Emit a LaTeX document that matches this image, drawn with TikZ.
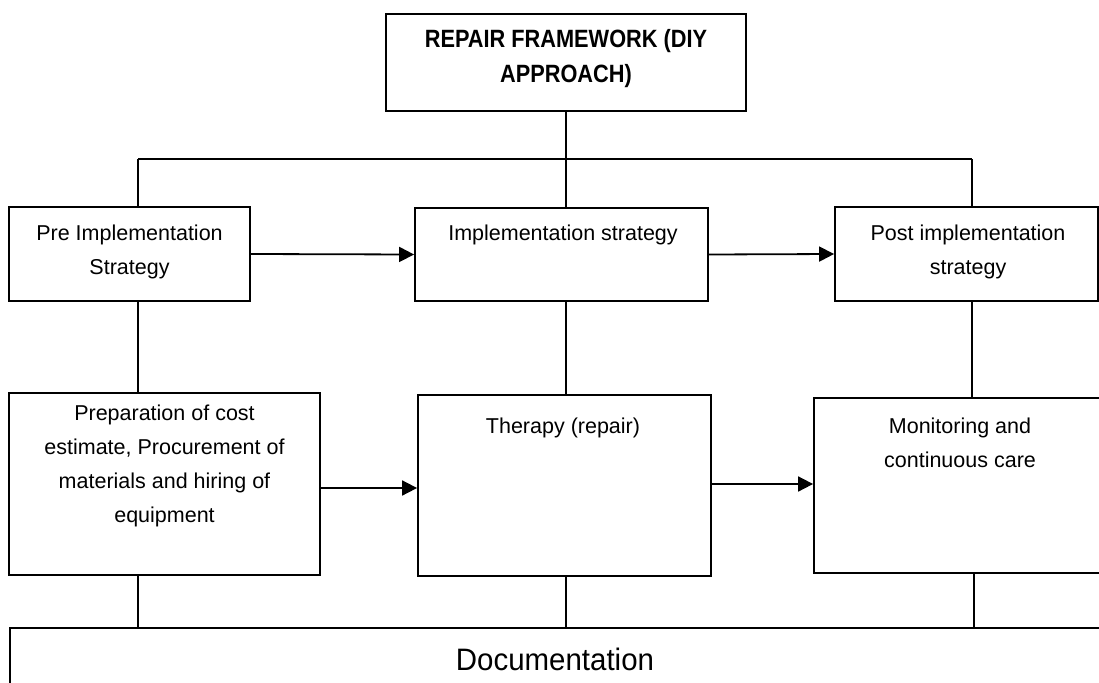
\documentclass[tikz,border=0pt]{standalone}
\usepackage{fontspec}
\setmainfont{Liberation Sans}
\newfontfamily\narrowfont{Liberation Sans}[FakeStretch=0.87]
\newfontfamily\docfont{Liberation Sans}[FakeStretch=0.95]
\usetikzlibrary{arrows.meta}
\begin{document}
\begin{tikzpicture}[x=1pt,y=-1pt,
  box/.style={draw,line width=1.8pt,inner sep=0pt,minimum width=#1},
  txt/.style={align=center,inner sep=0pt,font=\fontsize{21.5}{34}\selectfont},
  conn/.style={line width=1.8pt},
  arr/.style={line width=1.8pt,-{Triangle[length=15pt,width=15pt]}}]
\useasboundingbox (0,0) rectangle (1099,682);
\clip (0,0) rectangle (1099,682);
\fill[white] (0,0) rectangle (1099,682);
% boxes
\node[box=360pt,minimum height=97pt] (title) at (566,62.5) {};
\node[box=241pt,minimum height=94pt] (pre) at (129.5,254) {};
\node[box=293pt,minimum height=93pt] (impl) at (561.5,254.5) {};
\node[box=263pt,minimum height=94pt] (post) at (966.5,254) {};
\node[box=311pt,minimum height=182pt] (prep) at (164.5,484) {};
\node[box=293pt,minimum height=181pt] (ther) at (564.5,485.5) {};
\node[box=290pt,minimum height=175pt] (mon) at (959,485.5) {};
\node[box=1100pt,minimum height=80pt] (doc) at (560,668) {};
% texts
\node[txt,font=\narrowfont\bfseries\fontsize{25}{35}\selectfont] (titletxt) at (566,58.5) {REPAIR FRAMEWORK (DIY\\APPROACH)};
\node[txt] (pretxt) at (129.5,252) {Pre Implementation\\Strategy};
\node[txt] (impltxt) at (563,235) {Implementation strategy};
\node[txt] (posttxt) at (968,252) {Post implementation\\strategy};
\node[txt] (preptxt) at (164.5,466) {Preparation of cost\\estimate, Procurement of\\materials and hiring of\\equipment};
\node[txt] (thertxt) at (563,428) {Therapy (repair)};
\node[txt] (montxt) at (960,443) {Monitoring and\\continuous care};
\node[txt,font=\docfont\fontsize{31}{34}\selectfont] (doctxt) at (555,659) {Documentation};
% coordinates
\coordinate (busL) at (138,159);
\coordinate (busM) at (566,159);
\coordinate (busR) at (972,159);
\coordinate (lowR) at (974,0);
\coordinate (a1) at (0,488);
\coordinate (a2) at (0,484);
% connectors
\draw[conn] (title.south) -- (busM);
\draw[conn] (busL) -- (busR);
\draw[conn] (busL) -- (busL |- pre.north);
\draw[conn] (busM) -- (busM |- impl.north);
\draw[conn] (busR) -- (busR |- post.north);
\draw[arr] (pre.east) -- (impl.west);
\draw[arr] (impl.east) -- (post.west);
\draw[conn] (busL |- pre.south) -- (busL |- prep.north);
\draw[conn] (busM |- impl.south) -- (busM |- ther.north);
\draw[conn] (busR |- post.south) -- (busR |- mon.north);
\draw[arr] (prep.east |- a1) -- (ther.west |- a1);
\draw[arr] (ther.east |- a2) -- (mon.west |- a2);
\draw[conn] (busL |- prep.south) -- (busL |- doc.north);
\draw[conn] (busM |- ther.south) -- (busM |- doc.north);
\draw[conn] (lowR |- mon.south) -- (lowR |- doc.north);
\end{tikzpicture}
\end{document}
